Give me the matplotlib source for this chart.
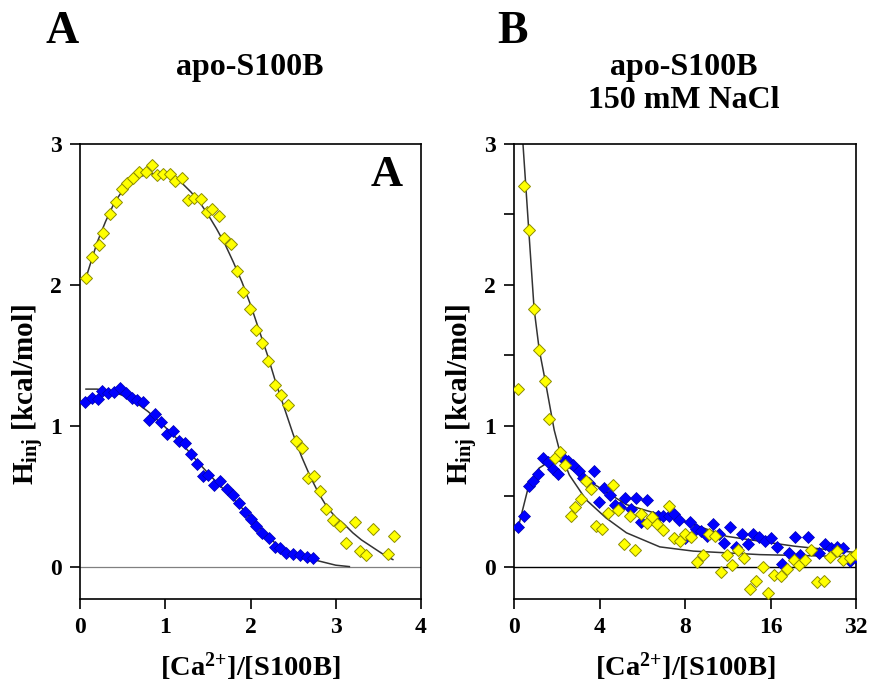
import numpy as np
import matplotlib.pyplot as plt

plt.rcParams['font.family'] = ['Liberation Serif', 'DejaVu Serif']
plt.rcParams['font.weight'] = 'bold'
plt.rcParams['axes.labelweight'] = 'bold'
plt.rcParams['mathtext.fontset'] = 'custom'
plt.rcParams['mathtext.rm'] = 'Liberation Serif:bold'
plt.rcParams['mathtext.bf'] = 'Liberation Serif:bold'
plt.rcParams['mathtext.default'] = 'rm'

# ---- panel A: apo-S100B ----
a_yel_x = [0.07, 0.14, 0.22, 0.27, 0.35, 0.42, 0.49, 0.55, 0.62, 0.69, 0.77, 0.85, 0.90, 0.97,
           1.05, 1.12, 1.20, 1.27, 1.34, 1.42, 1.49, 1.55, 1.63, 1.69, 1.77, 1.84, 1.91, 1.99,
           2.07, 2.13, 2.21, 2.29, 2.36, 2.44, 2.53, 2.60, 2.67, 2.75, 2.82, 2.89, 2.97, 3.05,
           3.12, 3.22, 3.29, 3.36, 3.44, 3.61, 3.68]
a_yel_y = [2.05, 2.20, 2.28, 2.37, 2.50, 2.59, 2.68, 2.72, 2.76, 2.80, 2.80, 2.85, 2.78, 2.79,
           2.79, 2.74, 2.76, 2.60, 2.62, 2.61, 2.52, 2.54, 2.49, 2.33, 2.29, 2.10, 1.95, 1.83,
           1.68, 1.59, 1.46, 1.29, 1.22, 1.15, 0.89, 0.84, 0.63, 0.64, 0.54, 0.41, 0.33, 0.29,
           0.17, 0.32, 0.11, 0.08, 0.27, 0.09, 0.22]
a_yel_fit_x = [0.07, 0.2, 0.3, 0.4, 0.5, 0.6, 0.7, 0.85, 1.0, 1.1, 1.2, 1.3, 1.4, 1.5, 1.6, 1.7,
               1.8, 1.9, 2.0, 2.1, 2.2, 2.3, 2.4, 2.5, 2.6, 2.7, 2.8, 2.9, 3.0, 3.1, 3.2, 3.3,
               3.4, 3.5, 3.6, 3.67]
a_yel_fit_y = [2.05, 2.30, 2.45, 2.58, 2.67, 2.73, 2.77, 2.79, 2.78, 2.76, 2.72, 2.66, 2.59,
               2.50, 2.40, 2.29, 2.16, 2.02, 1.86, 1.68, 1.50, 1.30, 1.12, 0.94, 0.78, 0.64,
               0.52, 0.42, 0.35, 0.30, 0.24, 0.19, 0.15, 0.11, 0.07, 0.05]

a_blu_x = [0.06, 0.14, 0.21, 0.26, 0.33, 0.40, 0.47, 0.54, 0.61, 0.67, 0.74, 0.81, 0.88, 0.95,
           1.02, 1.09, 1.16, 1.23, 1.30, 1.37, 1.44, 1.50, 1.57, 1.64, 1.72, 1.79, 1.86, 1.93,
           2.00, 2.07, 2.14, 2.22, 2.29, 2.35, 2.42, 2.50, 2.58, 2.66, 2.73]
a_blu_y = [1.17, 1.20, 1.19, 1.25, 1.23, 1.24, 1.27, 1.23, 1.20, 1.18, 1.17, 1.04, 1.08, 1.03,
           0.94, 0.96, 0.89, 0.88, 0.80, 0.73, 0.64, 0.65, 0.58, 0.61, 0.55, 0.51, 0.45, 0.39,
           0.34, 0.29, 0.24, 0.20, 0.14, 0.13, 0.10, 0.09, 0.08, 0.07, 0.06]
a_blu_fit_x = [0.07, 0.2, 0.4, 0.6, 0.8, 1.0, 1.2, 1.4, 1.6, 1.8, 2.0, 2.2, 2.3, 2.4, 2.6, 2.8,
               3.0, 3.16]
a_blu_fit_y = [1.26, 1.26, 1.24, 1.19, 1.10, 0.99, 0.87, 0.73, 0.60, 0.48, 0.35, 0.22, 0.16,
               0.11, 0.07, 0.04, 0.01, 0.0]

# ---- panel B: apo-S100B, 150 mM NaCl ----
b_yel_x = [0.20, 0.46, 0.69, 0.94, 1.18, 1.43, 1.66, 1.91, 2.15, 2.40, 2.65, 2.87, 3.12, 3.37,
           3.62, 3.84, 4.12, 4.41, 4.64, 4.88, 5.13, 5.41, 5.66, 5.94, 6.20, 6.45, 6.70, 6.95,
           7.23, 7.48, 7.76, 8.02, 8.42, 8.82, 9.27, 9.69, 10.2, 10.7, 11.2, 11.7, 12.3, 12.9,
           13.6, 14.2, 15.0, 15.7, 16.4, 17.4, 18.3, 19.3, 20.2, 21.2, 22.3, 23.4, 24.7, 26.0,
           27.4, 28.8, 30.4, 31.9]
b_yel_y = [1.26, 2.70, 2.39, 1.83, 1.54, 1.32, 1.05, 0.77, 0.81, 0.72, 0.36, 0.42, 0.48, 0.61,
           0.55, 0.29, 0.27, 0.38, 0.58, 0.40, 0.16, 0.36, 0.12, 0.37, 0.31, 0.35, 0.30, 0.26,
           0.43, 0.20, 0.18, 0.23, 0.21, 0.03, 0.08, 0.23, 0.22, -0.04, 0.08, 0.01, 0.12, 0.06,
           -0.16, -0.10, 0.00, -0.19, -0.06, -0.07, -0.02, 0.05, 0.01, 0.05, 0.12, -0.11, -0.10,
           0.07, 0.11, 0.05, 0.06, 0.09]
b_yel_fit_x = [0.42, 0.69, 0.94, 1.18, 1.46, 1.88, 2.12, 2.59, 3.37, 4.31, 5.26, 6.82, 8.56,
               14.7, 32.0]
b_yel_fit_y = [3.0, 2.39, 1.83, 1.54, 1.32, 0.97, 0.83, 0.65, 0.475, 0.345, 0.24, 0.14, 0.11,
               0.085, 0.07]

b_blu_x = [0.20, 0.46, 0.68, 0.89, 1.14, 1.36, 1.58, 1.82, 2.06, 2.29, 2.52, 2.78, 3.03, 3.25,
           3.50, 3.75, 3.97, 4.22, 4.47, 4.72, 4.97, 5.21, 5.47, 5.73, 5.96, 6.23, 6.48, 6.73,
           6.98, 7.23, 7.48, 7.73, 7.98, 8.33, 8.75, 9.14, 9.55, 10.0, 10.5, 11.0, 11.5, 12.1,
           12.7, 13.3, 13.9, 14.6, 15.3, 16.1, 16.9, 17.6, 18.6, 19.5, 20.4, 21.6, 23.7, 24.8,
           26.1, 27.5, 28.9, 30.4, 31.9]
b_blu_y = [0.28, 0.36, 0.57, 0.61, 0.66, 0.77, 0.74, 0.69, 0.66, 0.77, 0.75, 0.72, 0.68, 0.63,
           0.59, 0.68, 0.46, 0.56, 0.51, 0.44, 0.42, 0.49, 0.41, 0.49, 0.32, 0.47, 0.35, 0.36,
           0.36, 0.36, 0.37, 0.33, 0.20, 0.32, 0.27, 0.25, 0.22, 0.30, 0.23, 0.17, 0.28, 0.14,
           0.23, 0.16, 0.23, 0.21, 0.18, 0.20, 0.14, 0.02, 0.10, 0.21, 0.08, 0.21, 0.10, 0.16,
           0.13, 0.14, 0.13, 0.04, 0.07]
b_blu_fit_x = [0.20, 0.68, 1.18, 1.65, 2.12, 3.69, 5.26, 6.82, 8.56, 11.2, 14.7, 19.4, 32.0]
b_blu_fit_y = [0.28, 0.57, 0.70, 0.745, 0.75, 0.59, 0.44, 0.37, 0.30, 0.215, 0.18, 0.145, 0.10]

b_xticks = [0, 4, 8, 16, 32]

yellow = '#ffff00'
yellow_edge = '#8c8c00'
blue = '#0000ff'
blue_edge = '#0000b0'


def fwd(x):
    x = np.asarray(x, dtype=float)
    return np.where(x <= 8, x / 4.0, 2 + np.log2(np.maximum(x, 8) / 8.0))


def inv(u):
    u = np.asarray(u, dtype=float)
    return np.where(u <= 2, u * 4.0, 8 * 2 ** (np.maximum(u, 2) - 2))


fig = plt.figure(figsize=(8.72, 6.89), dpi=100)
axA = fig.add_axes([80 / 872, 90 / 689, 341 / 872, 455 / 689])
axB = fig.add_axes([514 / 872, 90 / 689, 342 / 872, 455 / 689])

ylab = r'H$_{\mathregular{inj}}$ [kcal/mol]'
xlab = r'[Ca$^{2{+}}$]/[S100B]'

# panel A
axA.set_xlim(0, 4)
axA.set_xticks([0, 1, 2, 3, 4])
axA.axhline(0, color='#808080', lw=0.9, zorder=1)
axA.plot(a_yel_fit_x, a_yel_fit_y, color='#333333', lw=1.1, zorder=2)
axA.plot(a_blu_fit_x, a_blu_fit_y, color='#333333', lw=1.1, zorder=2)
axA.plot(a_yel_x, a_yel_y, 'D', ms=6, mfc=yellow, mec=yellow_edge, mew=0.7, zorder=3)
axA.plot(a_blu_x, a_blu_y, 'D', ms=6, mfc=blue, mec=blue_edge, mew=0.5, zorder=3)
axA.text(0.947, 0.932, 'A', transform=axA.transAxes, ha='right', va='center', fontsize=32)

# panel B
axB.set_xscale('function', functions=(fwd, inv))
axB.set_xlim(0, 32)
axB.set_xticks(b_xticks)
axB.set_xticklabels([str(t) for t in b_xticks])
axB.minorticks_off()
axB.set_yticks([0.5, 1.5, 2.5], minor=True)
axB.axhline(0, color='black', lw=1.0, zorder=1)
axB.plot(b_yel_fit_x, b_yel_fit_y, color='#333333', lw=1.1, zorder=2)
axB.plot(b_blu_fit_x, b_blu_fit_y, color='#333333', lw=1.1, zorder=2)
axB.plot(b_blu_x, b_blu_y, 'D', ms=6, mfc=blue, mec=blue_edge, mew=0.5, zorder=3)
axB.plot(b_yel_x, b_yel_y, 'D', ms=6, mfc=yellow, mec=yellow_edge, mew=0.7, zorder=3)

for ax in (axA, axB):
    ax.set_ylim(-0.23, 3)
    ax.set_yticks([0, 1, 2, 3])
    ax.tick_params(which='both', direction='out', length=7, width=1.2, labelsize=17, pad=6)
    for lab in ax.get_xticklabels() + ax.get_yticklabels():
        lab.set_fontweight('bold')
    for s in ax.spines.values():
        s.set_linewidth(1.2)
    ax.set_ylabel(ylab, fontsize=21, fontweight='bold')
    ax.yaxis.set_label_coords(-0.10, 0.45)
    ax.set_xlabel(xlab, fontsize=20.5, fontweight='bold', labelpad=9)

# titles and panel letters
fig.text(62 / 872, 1 - 32 / 689, 'A', fontsize=33, ha='center', va='center')
fig.text(512 / 872, 1 - 32 / 689, 'B', fontsize=33, ha='center', va='center')
fig.text(250 / 872, 1 - 68 / 689, 'apo-S100B', fontsize=23, ha='center', va='center')
fig.text(684 / 872, 1 - 68 / 689, 'apo-S100B', fontsize=23, ha='center', va='center')
fig.text(684 / 872, 1 - 101 / 689, '150 mM NaCl', fontsize=23, ha='center', va='center')

fig.savefig('out.png', dpi=100)
